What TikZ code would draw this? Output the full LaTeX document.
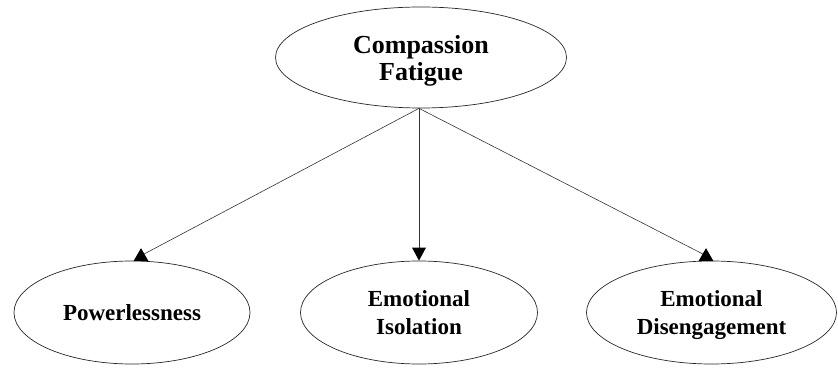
\documentclass[tikz,border=0pt]{standalone}
\usepackage{fontspec}
\setmainfont{Liberation Serif}
\usetikzlibrary{shapes.geometric}

\begin{document}
\begin{tikzpicture}[x=1pt,y=1pt,
  concept/.style={draw=black!85, line width=0.7pt, ellipse, inner sep=0pt,
    align=center, font=\bfseries\fontsize{23}{28}\selectfont, text depth=0pt},
  link/.style={draw=black!80, line width=0.6pt},
  headfill/.style={fill=black}]
  \useasboundingbox (0,0) rectangle (838,367);

  % root concept
  \node[concept, minimum width=291, minimum height=101,
        font=\bfseries\fontsize{26}{27}\selectfont] (cf) at (421,309.5)
        {Compassion\\Fatigue};

  % three consequences
  \node[concept, minimum width=236, minimum height=103] (pl) at (132,54.5)
        {Powerlessness};
  \node[concept, minimum width=237, minimum height=103] (ei) at (419,54.5)
        {Emotional\\Isolation};
  \node[concept, minimum width=250, minimum height=103] (ed) at (711.5,54.5)
        {Emotional\\Disengagement};

  % common start point of the connectors
  \coordinate (hub) at (cf.south -| ei.north);
  \coordinate (plend) at ([xshift=9pt,yshift=5pt]pl.north);
  \coordinate (edend) at ([xshift=-5.5pt,yshift=5pt]ed.north);

  % connectors
  \draw[link] (hub) -- (plend);
  \draw[link] (hub) -- ([yshift=12pt]ei.north);
  \draw[link] (hub) -- (edend);

  % arrow heads
  \fill[headfill] ([xshift=9pt,yshift=-0.5pt]pl.north) ++(-7.5,0) -- ++(15,0) -- ++(-7.5,13) -- cycle;
  \fill[headfill] (ei.north) -- ++(-7,13) -- ++(14,0) -- cycle;
  \fill[headfill] ([xshift=-5.5pt,yshift=-0.5pt]ed.north) ++(-7.5,0) -- ++(15,0) -- ++(-7.5,13) -- cycle;
\end{tikzpicture}
\end{document}
